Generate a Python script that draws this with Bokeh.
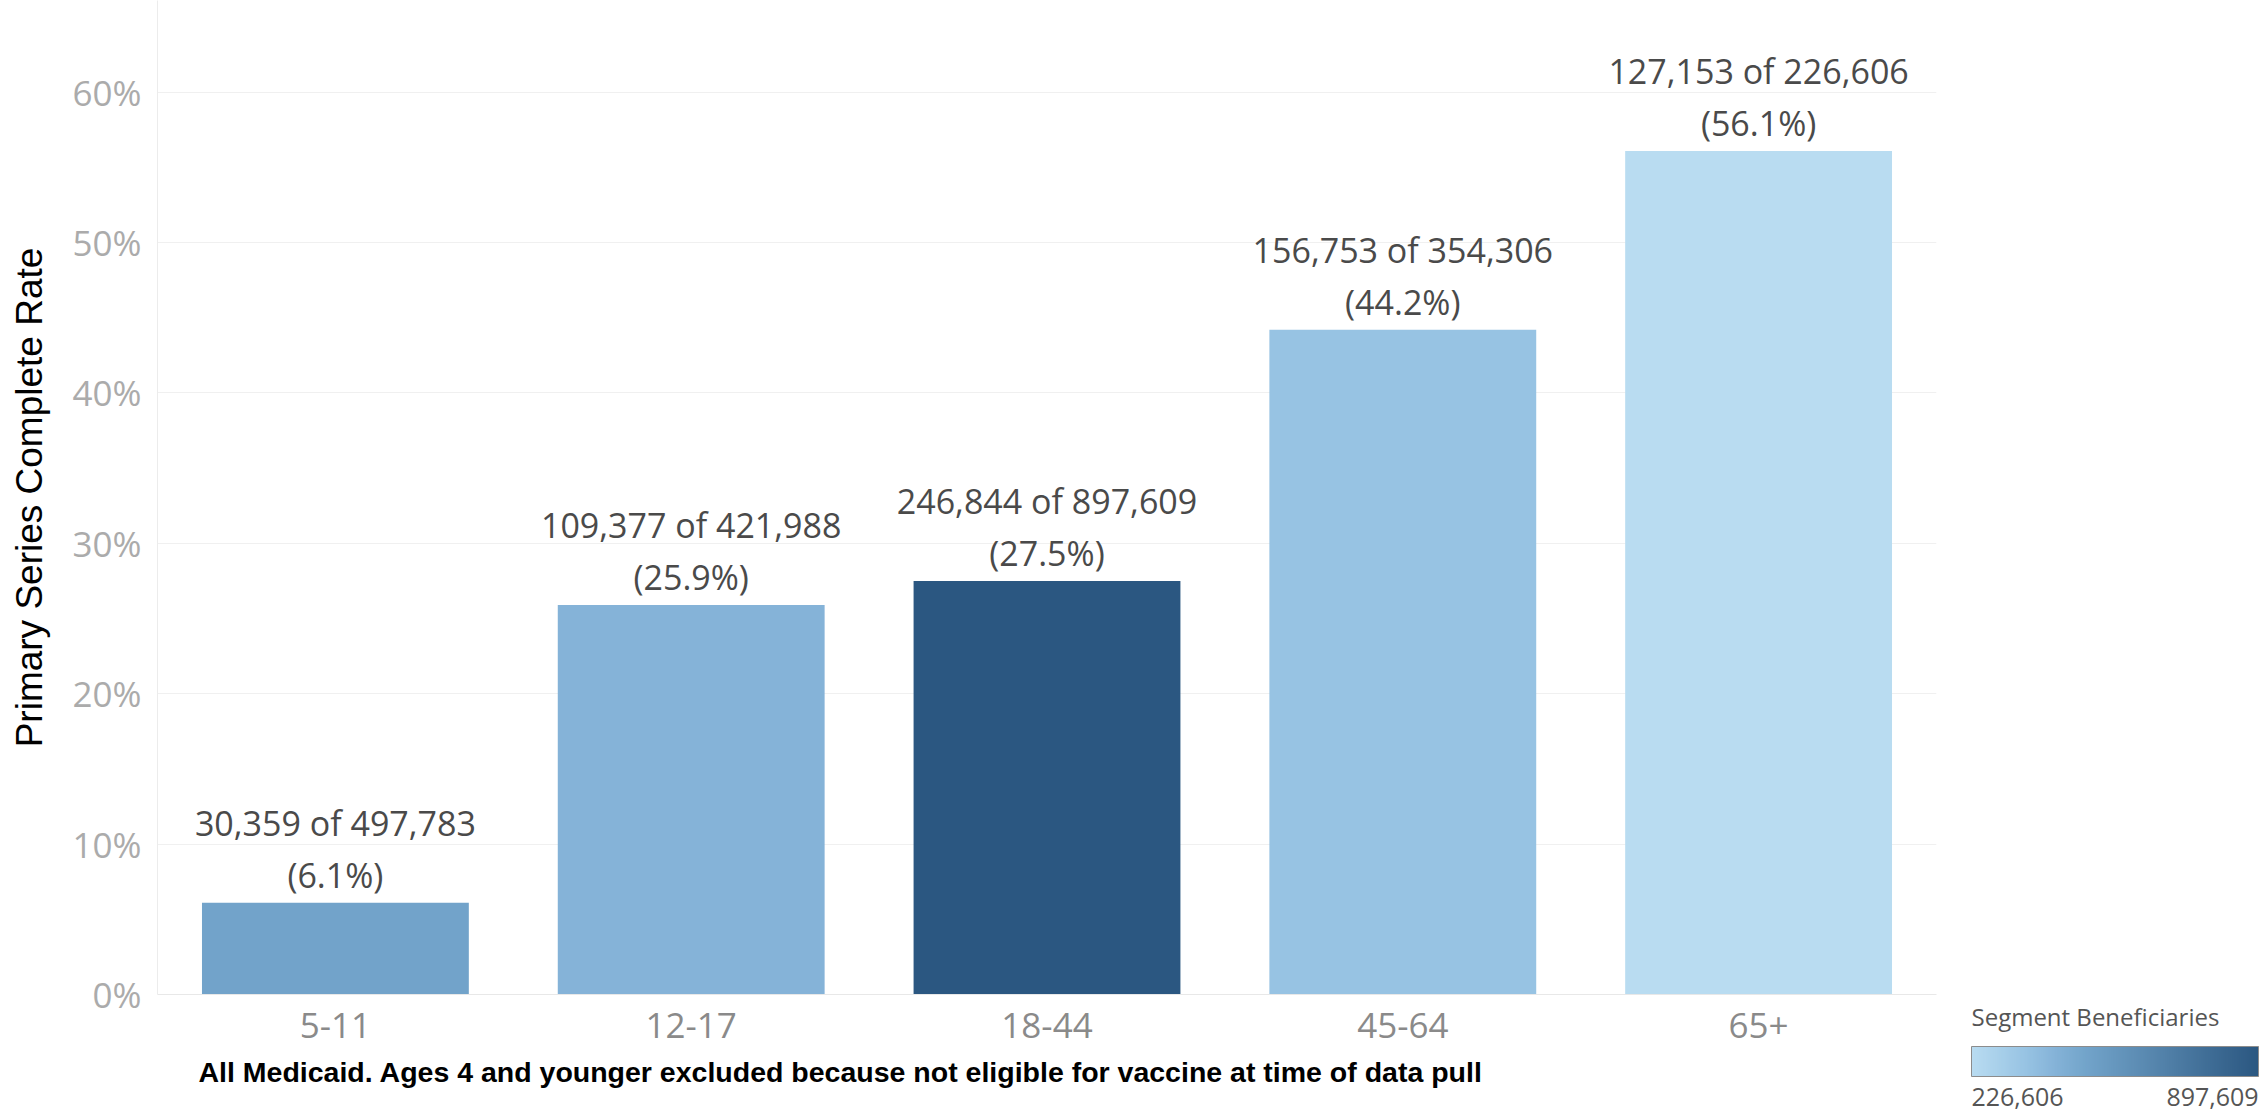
from bokeh.plotting import figure
from bokeh.models import (ColumnDataSource, FactorRange, Range1d, FixedTicker,
                          PrintfTickFormatter, LabelSet, ColorBar, Title,
                          LinearColorMapper)
from bokeh.core.properties import value
from bokeh.transform import transform
from bokeh.embed import file_html
from bokeh.resources import INLINE

# ---------------- data ----------------
age_groups = ["5-11", "12-17", "18-44", "45-64", "65+"]
completed = [30359, 109377, 246844, 156753, 127153]
beneficiaries = [497783, 421988, 897609, 354306, 226606]
rates = [6.1, 25.9, 27.5, 44.2, 56.1]
y_ticks = [0, 10, 20, 30, 40, 50, 60]
note = "All Medicaid. Ages 4 and younger excluded because not eligible for vaccine at time of data pull"
legend_title = "Segment Beneficiaries"
y_title = "Primary Series Complete Rate"

# ---------------- styling ----------------
def _hex(c):
    c = c.lstrip("#")
    return tuple(int(c[i:i + 2], 16) for i in (0, 2, 4))

anchors = [(0.0, "#b9dcf1"), (0.19, "#97c3e3"), (0.29, "#85b3d8"),
           (0.40, "#72a4ca"), (1.0, "#2b5781")]

def build_palette(n=256):
    out = []
    for i in range(n):
        t = i / (n - 1)
        for (p0, c0), (p1, c1) in zip(anchors[:-1], anchors[1:]):
            if p0 <= t <= p1:
                f = (t - p0) / (p1 - p0) if p1 > p0 else 0
                a, b = _hex(c0), _hex(c1)
                rgb = [round(a[k] + (b[k] - a[k]) * f) for k in range(3)]
                out.append("#%02x%02x%02x" % tuple(rgb))
                break
    return out

palette = build_palette()
low, high = min(beneficiaries), max(beneficiaries)
mapper = LinearColorMapper(palette=palette, low=low, high=high)

src = ColumnDataSource(dict(
    age=age_groups,
    rate=rates,
    ben=beneficiaries,
    line1=[f"{c:,} of {b:,}" for c, b in zip(completed, beneficiaries)],
    line2=[f"({r:.1f}%)" for r in rates],
))

W, H = 2261, 1115
FRAME_L, FRAME_R, FRAME_B = 157, 1936, 994
Y_END = 66.1

p = figure(width=W, height=H, x_range=FactorRange(*age_groups),
           y_range=Range1d(0, Y_END), output_backend="svg", toolbar_location=None,
           min_border_left=FRAME_L, min_border_right=W - FRAME_R, min_border_top=0,
           min_border_bottom=H - FRAME_B)
p.outline_line_color = None
p.background_fill_color = "white"
p.border_fill_color = "white"

p.vbar(x="age", top="rate", width=0.75, source=src,
       fill_color=transform("ben", mapper), line_color=None)

# axes
p.yaxis.ticker = FixedTicker(ticks=y_ticks)
p.yaxis.formatter = PrintfTickFormatter(format="%d%%")
p.yaxis.major_label_text_font = "Open Sans"
p.yaxis.major_label_text_font_size = "35px"
p.yaxis.major_label_text_color = "#ababab"
p.yaxis.major_label_standoff = 10
p.yaxis.major_tick_line_color = None
p.yaxis.minor_tick_line_color = None
p.yaxis.axis_line_color = "#ececec"
p.yaxis.axis_label = y_title
p.yaxis.axis_label_text_font = "Liberation Sans"
p.yaxis.axis_label_text_font_style = "normal"
p.yaxis.axis_label_text_font_size = "37px"
p.yaxis.axis_label_text_color = "#000000"
p.yaxis.axis_label_standoff = 20

p.xaxis.major_label_text_font = "Open Sans"
p.xaxis.major_label_text_font_size = "35px"
p.xaxis.major_label_text_color = "#8a8a8a"
p.xaxis.major_label_standoff = 12
p.xaxis.major_tick_line_color = None
p.xaxis.axis_line_color = "#e8e8e8"

p.xgrid.grid_line_color = None
p.ygrid.grid_line_color = "#f0f0f0"
p.ygrid.grid_line_width = 1

# bar labels
for col, off in (("line1", 80), ("line2", 28)):
    ls = LabelSet(x="age", y="rate", text=col, source=src, y_offset=off,
                  text_align="center", text_baseline="middle",
                  text_font=value("Open Sans"), text_font_size="34px",
                  text_color="#4a4a4a")
    p.add_layout(ls)

# footnote below the axis
p.add_layout(Title(text=note, align="left", offset=198 - FRAME_L,
                   text_font="Liberation Sans", text_font_style="bold",
                   text_font_size="28.5px", text_color="#000000", standoff=26),
             "below")

# ---------------- colour legend ----------------
BAR_L, BAR_R = 1971, 2258
bar_w = BAR_R - BAR_L
label_half_px = 46  # half width of a 25px legend label: keeps end labels inside the bar
shift = (high - low) * label_half_px / bar_w
tick_lo, tick_hi = round(low + shift), round(high - shift)

cb = ColorBar(color_mapper=mapper, orientation="horizontal", width=bar_w, height=30,
              location=(BAR_L - FRAME_L, FRAME_B - 1108), padding=0,
              title=legend_title, title_text_font="Open Sans",
              title_text_font_size="24px", title_text_font_style="normal",
              title_text_color="#555555", title_standoff=28,
              ticker=FixedTicker(ticks=[tick_lo, tick_hi]),
              major_label_overrides={tick_lo: f"{low:,}", tick_hi: f"{high:,}"},
              major_tick_line_color=None, minor_tick_line_color=None,
              major_label_text_font="Open Sans", major_label_text_font_size="25px",
              major_label_text_color="#555555", label_standoff=11,
              bar_line_color="#8c8c8c", border_line_color=None,
              background_fill_color=None)
p.add_layout(cb)

open("out.html", "w").write(file_html(p, INLINE))
